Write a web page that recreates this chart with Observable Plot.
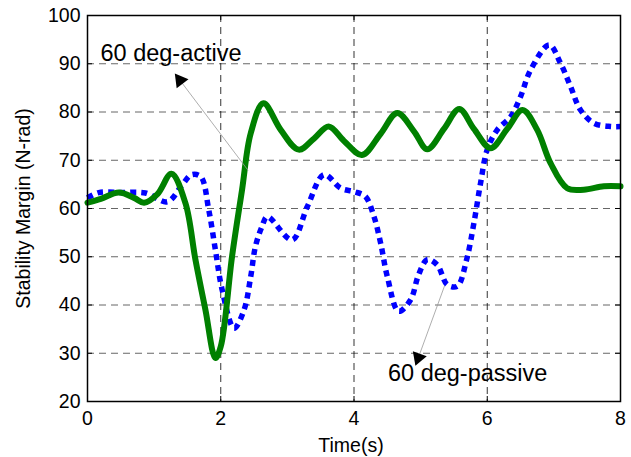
<!DOCTYPE html>
<html>
<head>
<meta charset="utf-8">
<script src="https://cdn.jsdelivr.net/npm/d3@7"></script>
<script src="https://cdn.jsdelivr.net/npm/@observablehq/plot@0.6"></script>
<style>
  html, body { margin: 0; padding: 0; background: #fff; }
  #chart svg { display: block; }
</style>
</head>
<body>
<div id="chart"></div>
<script>
// ---- data ----
const activeT = [0, 0.2, 0.47, 0.7, 0.85, 1.05, 1.26, 1.47, 1.62, 1.77, 1.92, 2.0, 2.17, 2.32, 2.45, 2.64, 2.9, 3.17, 3.4, 3.62, 3.85, 4.12, 4.4, 4.65, 4.9, 5.1, 5.35, 5.58, 5.8, 6.05, 6.3, 6.53, 6.75, 6.95, 7.2, 7.45, 7.75, 8.0];
const activeV = [61.2, 62.0, 63.3, 62.2, 61.2, 63.0, 67.2, 61.1, 49.4, 39.0, 29.0, 31.4, 50.1, 63.9, 75.6, 81.8, 76.3, 72.2, 74.5, 77.0, 74.0, 71.1, 75.5, 79.8, 76.0, 72.3, 76.5, 80.6, 76.5, 72.5, 76.5, 80.4, 76.3, 69.4, 64.2, 63.9, 64.6, 64.6];

const passiveT = [0, 0.17, 0.5, 0.87, 1.2, 1.42, 1.56, 1.7, 1.82, 1.92, 2.02, 2.2, 2.35, 2.45, 2.52, 2.62, 2.7, 3.07, 3.3, 3.55, 3.8, 4.0, 4.17, 4.3, 4.4, 4.5, 4.67, 4.85, 4.97, 5.1, 5.25, 5.4, 5.55, 5.69, 5.8, 5.9, 6.0, 6.15, 6.35, 6.5, 6.65, 6.93, 7.1, 7.25, 7.4, 7.6, 7.85, 8.0];
const passiveV = [62.2, 63.3, 63.3, 63.2, 61.4, 64.9, 67.0, 66.6, 59.7, 51.4, 43.2, 35.2, 39.0, 45.9, 52.1, 56.3, 58.3, 53.5, 60.4, 67.0, 64.2, 63.5, 62.5, 58.3, 52.8, 45.9, 38.7, 41.1, 46.3, 49.4, 48.3, 44.2, 43.9, 49.4, 57.0, 65.3, 72.2, 76.3, 79.0, 83.2, 88.7, 93.9, 90.1, 85.3, 80.4, 77.7, 77.0, 77.0];

const xTicks = [0, 2, 4, 6, 8];
const yTicks = [20, 30, 40, 50, 60, 70, 80, 90, 100];
const xLabel = "Time(s)";
const yLabel = "Stability Margin (N-rad)";

// annotations: label, text anchor (t, v), arrow from (t, v) to tip (t, v)
const annLabels = ["60 deg-active", "60 deg-passive"];
const annTextT = [0.195, 4.51];
const annTextV = [92.2, 25.9];
const annFromT = [2.41, 5.36];
const annFromV = [67.9, 44.0];
const annToT = [1.343, 4.94];
const annToV = [87.4, 28.1];

// ---- build ----
const W = 631, H = 457;
const mL = 87, mR = 11, mT = 15, mB = 56;

const active = activeT.map((t, i) => ({t, v: activeV[i]}));
const passive = passiveT.map((t, i) => ({t, v: passiveV[i]}));

// mirror scales to compute arrowhead rotation in pixel space
const xs = d3.scaleLinear([0, 8], [mL, W - mR]);
const ys = d3.scaleLinear([20, 100], [H - mB, mT]);
const ann = annLabels.map((label, i) => {
  const px1 = xs(annFromT[i]), py1 = ys(annFromV[i]);
  const px2 = xs(annToT[i]), py2 = ys(annToV[i]);
  const dx = px2 - px1, dy = py2 - py1, len = Math.hypot(dx, dy);
  const back = 5; // move symbol centre back so the tip lands on the target
  return {
    label, tt: annTextT[i], tv: annTextV[i],
    x1: annFromT[i], y1: annFromV[i], x2: annToT[i], y2: annToV[i],
    hx: xs.invert(px2 - dx / len * back), hy: ys.invert(py2 - dy / len * back),
    rot: Math.atan2(dx, -dy) * 180 / Math.PI
  };
});

const innerH = H - mT - mB, innerW = W - mL - mR;
const gridX = xTicks.filter(d => d > 0 && d < 8);
const gridY = yTicks.filter(d => d > 20 && d < 100);

const chart = Plot.plot({
  width: W, height: H,
  marginLeft: mL, marginRight: mR, marginTop: mT, marginBottom: mB,
  style: {fontFamily: "'Liberation Sans', Arial, sans-serif", fontSize: "19px", color: "#000", background: "#fff"},
  x: {domain: [0, 8]},
  y: {domain: [20, 100]},
  marks: [
    Plot.ruleX(gridX, {stroke: "#000", strokeOpacity: 0.8, strokeDasharray: "7,5"}),
    Plot.ruleY(gridY, {stroke: "#000", strokeOpacity: 0.6, strokeDasharray: "7,5"}),
    // inward ticks
    Plot.tickX(xTicks, {x: d => d, insetTop: innerH - 5, stroke: "#000"}),
    Plot.tickX(xTicks, {x: d => d, insetBottom: innerH - 5, stroke: "#000"}),
    Plot.tickY(yTicks, {y: d => d, insetRight: innerW - 5, stroke: "#000"}),
    Plot.tickY(yTicks, {y: d => d, insetLeft: innerW - 5, stroke: "#000"}),
    Plot.axisX({ticks: xTicks, tickSize: 0, tickPadding: 10, fontSize: 19.5, label: null}),
    Plot.axisY({ticks: yTicks, tickSize: 0, tickPadding: 7, fontSize: 19.5, label: null}),
    Plot.text([xLabel], {text: d => d, frameAnchor: "bottom", textAnchor: "middle", lineAnchor: "middle", dy: 44, dx: -3, fontSize: 19.5, fill: "#000"}),
    Plot.text([yLabel], {text: d => d, frameAnchor: "left", textAnchor: "middle", lineAnchor: "middle", rotate: -90, dx: -64, fontSize: 19.5, fill: "#000"}),
    Plot.line(passive, {x: "t", y: "v", stroke: "#0000ff", strokeWidth: 5.5, strokeDasharray: "6,5", strokeLinecap: "butt", curve: "catmull-rom"}),
    Plot.line(active, {x: "t", y: "v", stroke: "#008000", strokeWidth: 6, curve: "catmull-rom"}),
    Plot.frame({stroke: "#000", strokeWidth: 1.5}),
    Plot.link(ann, {x1: "x1", y1: "y1", x2: "x2", y2: "y2", stroke: "#999", strokeWidth: 0.8}),
    Plot.dot(ann, {x: "hx", y: "hy", symbol: "triangle", r: 5.5, fill: "#000", stroke: "none", rotate: "rot"}),
    Plot.text(ann, {x: "tt", y: "tv", text: "label", textAnchor: "start", fontSize: 23.5, fill: "#000"})
  ]
});
document.getElementById("chart").appendChild(chart);
</script>
</body>
</html>
